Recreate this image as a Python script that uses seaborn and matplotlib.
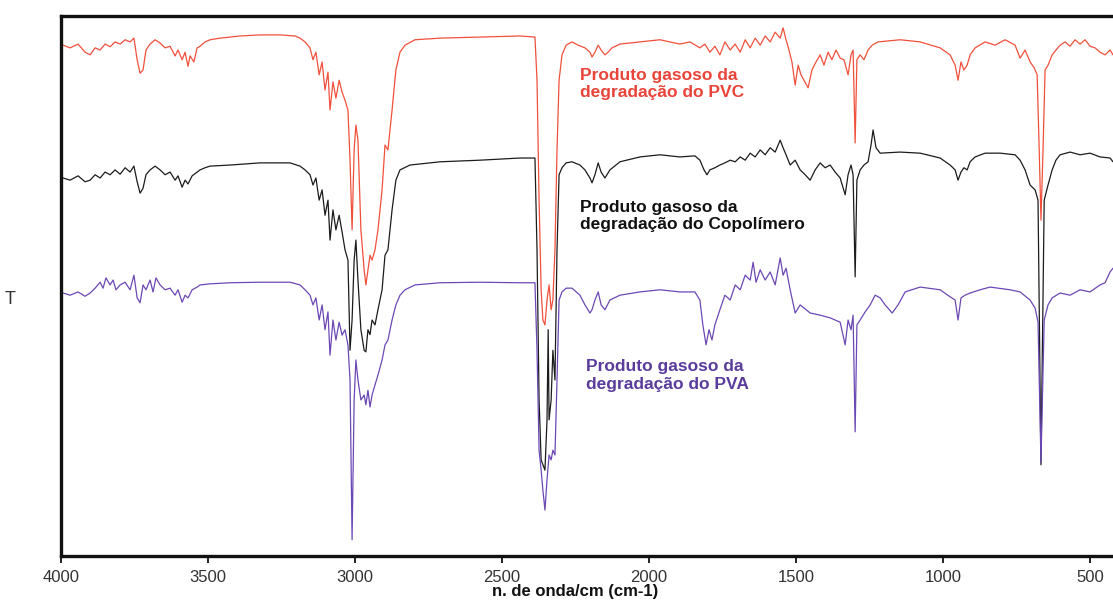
import matplotlib
matplotlib.use("Agg")
import matplotlib.pyplot as plt
import seaborn as sns
import pandas as pd

# ---------------- data ----------------
wn_pvc = [3993, 3969, 3942, 3918, 3901, 3884, 3867, 3850, 3833, 3816, 3799, 3782, 3765, 3752, 3741, 3731,
          3721, 3711, 3697, 3680, 3663, 3646, 3629, 3612, 3602, 3588, 3578, 3568, 3561, 3548, 3537, 3527,
          3510, 3493, 3459, 3391, 3323, 3255, 3204, 3187, 3170, 3153, 3143, 3133, 3122, 3112, 3102, 3092,
          3085, 3075, 3065, 3054, 3044, 3034, 3024, 3017, 3010, 3003, 2997, 2990, 2980, 2969, 2963, 2956,
          2949, 2942, 2932, 2922, 2908, 2898, 2888, 2874, 2861, 2847, 2830, 2796, 2711, 2575, 2439, 2388,
          2381, 2374, 2367, 2361, 2354, 2347, 2340, 2333, 2327, 2320, 2313, 2306, 2296, 2282, 2262, 2241,
          2218, 2201, 2194, 2184, 2173, 2163, 2150, 2139, 2126, 2099, 2031, 1963, 1895, 1861, 1827, 1810,
          1793, 1776, 1759, 1742, 1724, 1707, 1690, 1673, 1656, 1639, 1622, 1605, 1588, 1571, 1554, 1544,
          1534, 1524, 1514, 1503, 1493, 1483, 1473, 1459, 1446, 1432, 1418, 1405, 1391, 1378, 1364, 1350,
          1337, 1323, 1313, 1306, 1299, 1293, 1282, 1269, 1255, 1241, 1221, 1146, 1078, 1010, 976, 959,
          949, 939, 929, 918, 908, 891, 857, 823, 789, 755, 738, 721, 704, 690, 680, 673, 667, 660, 653,
          643, 629, 616, 602, 585, 568, 551, 534, 517, 500, 483, 466, 449, 432, 422]
t_pvc = [94.6, 94.1, 94.8, 93.3, 92.8, 94.1, 93.7, 94.8, 94.3, 95.2, 94.8, 95.6, 95.2, 95.9, 91.9, 89.4,
         90.0, 93.7, 94.8, 95.6, 95.0, 94.1, 94.4, 92.6, 93.7, 91.9, 93.3, 90.7, 92.6, 91.5, 94.1, 94.4,
         95.2, 95.6, 95.9, 96.3, 96.5, 96.5, 96.3, 95.9, 95.2, 94.1, 91.9, 93.3, 89.1, 91.5, 86.3, 89.6,
         82.6, 87.8, 84.8, 88.1, 85.9, 84.4, 82.6, 73.3, 60.4, 75.2, 79.8, 77.0, 60.4, 53.0, 50.2, 53.0,
         55.7, 54.8, 56.7, 60.4, 67.8, 76.1, 75.2, 82.6, 90.0, 93.3, 94.6, 95.6, 95.9, 96.1, 96.3, 96.1,
         88.1, 65.9, 49.3, 43.7, 42.8, 47.4, 50.2, 45.6, 47.4, 56.7, 75.2, 88.1, 92.8, 94.6, 95.2, 94.6,
         94.1, 93.3, 92.4, 93.3, 94.6, 93.7, 92.8, 93.3, 94.1, 94.8, 95.2, 95.6, 94.8, 95.2, 94.1, 94.8,
         93.3, 94.4, 92.8, 95.2, 93.7, 94.8, 93.3, 95.6, 94.1, 95.9, 94.6, 96.3, 95.2, 97.0, 95.9, 97.8,
         95.6, 93.7, 91.5, 87.2, 90.9, 89.1, 88.1, 86.7, 90.0, 91.5, 92.8, 90.9, 93.3, 91.9, 93.7, 92.2,
         91.9, 89.1, 92.8, 93.7, 76.5, 91.9, 92.8, 91.9, 93.7, 94.6, 95.2, 95.6, 95.2, 94.1, 92.8, 90.9,
         88.1, 91.5, 90.0, 90.9, 92.8, 94.1, 95.2, 94.6, 95.6, 94.6, 92.2, 93.7, 91.5, 90.4, 89.1, 75.2,
         62.2, 75.2, 90.0, 90.9, 92.8, 93.7, 94.6, 95.2, 94.4, 95.6, 94.8, 95.6, 94.4, 94.1, 93.3, 92.8,
         93.7, 92.8]

wn_cop = [3993, 3969, 3942, 3918, 3901, 3884, 3867, 3850, 3833, 3816, 3799, 3782, 3765, 3752, 3741, 3731,
          3721, 3711, 3697, 3680, 3663, 3646, 3629, 3612, 3602, 3588, 3578, 3568, 3554, 3537, 3527, 3510,
          3493, 3425, 3323, 3221, 3187, 3170, 3153, 3143, 3133, 3122, 3112, 3102, 3092, 3085, 3075, 3065,
          3054, 3044, 3034, 3024, 3017, 3010, 3003, 2997, 2990, 2980, 2969, 2963, 2956, 2949, 2942, 2932,
          2922, 2908, 2898, 2888, 2874, 2861, 2847, 2813, 2711, 2575, 2439, 2388, 2381, 2374, 2367, 2361,
          2354, 2347, 2343, 2340, 2333, 2327, 2320, 2313, 2306, 2296, 2282, 2262, 2235, 2218, 2201, 2194,
          2184, 2173, 2163, 2150, 2133, 2099, 2031, 1963, 1895, 1844, 1827, 1813, 1803, 1793, 1776, 1759,
          1742, 1724, 1707, 1690, 1673, 1656, 1639, 1622, 1605, 1588, 1571, 1554, 1544, 1534, 1520, 1503,
          1486, 1469, 1452, 1435, 1418, 1401, 1384, 1367, 1350, 1333, 1323, 1313, 1306, 1299, 1293, 1282,
          1269, 1255, 1245, 1238, 1228, 1214, 1146, 1078, 1010, 976, 959, 949, 939, 929, 918, 908, 891,
          857, 806, 755, 738, 721, 704, 687, 677, 667, 656, 643, 629, 616, 602, 568, 534, 500, 466, 432, 422]
t_cop = [70.0, 69.6, 70.4, 69.3, 69.6, 70.6, 70.0, 71.1, 70.6, 71.5, 70.7, 71.9, 71.1, 72.2, 69.3, 67.2,
         68.1, 70.6, 71.5, 72.2, 71.5, 70.6, 71.1, 69.6, 70.4, 68.3, 69.6, 68.9, 70.4, 71.1, 71.5, 71.9,
         72.2, 72.4, 72.8, 72.8, 72.2, 71.5, 70.6, 68.7, 70.0, 65.9, 67.8, 63.1, 65.9, 58.5, 64.1, 60.4,
         63.1, 60.0, 56.7, 54.8, 38.1, 43.7, 54.8, 58.5, 51.1, 41.9, 38.1, 37.8, 41.9, 41.0, 43.7, 42.8,
         45.6, 49.3, 55.7, 56.7, 64.1, 69.6, 71.5, 72.4, 73.0, 73.3, 73.7, 73.7, 56.7, 28.9, 17.8, 16.9,
         15.9, 25.2, 41.9, 25.2, 28.9, 38.1, 32.6, 56.7, 70.6, 71.9, 72.8, 73.0, 72.4, 71.5, 70.0, 69.1,
         70.6, 72.8, 71.1, 70.0, 71.5, 73.0, 73.9, 74.3, 73.9, 74.1, 73.3, 71.5, 70.6, 71.5, 71.9, 72.4,
         72.8, 73.3, 73.0, 73.9, 73.3, 74.6, 73.9, 75.2, 74.3, 75.6, 74.8, 77.0, 75.6, 74.3, 72.4, 73.3,
         71.5, 70.6, 69.6, 71.5, 72.8, 71.9, 72.4, 71.1, 70.0, 66.9, 70.6, 72.4, 70.6, 51.7, 69.6, 71.5,
         72.4, 73.0, 76.1, 78.9, 75.6, 74.6, 74.8, 74.6, 73.7, 72.4, 71.5, 69.6, 71.1, 71.9, 71.5, 73.0, 73.9,
         74.6, 74.6, 74.3, 73.3, 71.5, 68.7, 67.8, 65.9, 16.9, 65.9, 68.7, 71.5, 73.3, 74.3, 74.8, 74.3,
         74.6, 73.9, 73.7, 73.0]

wn_pva = [3993, 3969, 3942, 3918, 3901, 3884, 3867, 3857, 3847, 3833, 3823, 3813, 3799, 3782, 3765, 3752,
          3741, 3731, 3721, 3711, 3697, 3687, 3677, 3663, 3646, 3629, 3612, 3602, 3588, 3578, 3568, 3554,
          3537, 3527, 3493, 3425, 3323, 3221, 3187, 3170, 3153, 3143, 3133, 3122, 3112, 3102, 3092, 3085,
          3075, 3065, 3054, 3044, 3034, 3024, 3017, 3010, 3003, 2997, 2990, 2980, 2969, 2963, 2956, 2949,
          2942, 2932, 2922, 2908, 2898, 2888, 2874, 2861, 2847, 2830, 2796, 2711, 2575, 2439, 2388, 2381,
          2374, 2367, 2361, 2354, 2347, 2340, 2333, 2327, 2320, 2313, 2306, 2296, 2282, 2262, 2235, 2218,
          2201, 2194, 2184, 2173, 2163, 2150, 2133, 2099, 2031, 1963, 1895, 1844, 1827, 1817, 1806, 1796,
          1786, 1776, 1759, 1742, 1724, 1707, 1690, 1673, 1656, 1646, 1636, 1622, 1605, 1588, 1571, 1554,
          1544, 1534, 1520, 1503, 1486, 1452, 1418, 1384, 1350, 1333, 1323, 1313, 1306, 1299, 1293, 1282,
          1265, 1248, 1231, 1214, 1197, 1173, 1153, 1129, 1078, 1010, 976, 959, 949, 939, 925, 908, 874,
          840, 772, 738, 704, 687, 677, 667, 656, 643, 629, 602, 568, 534, 500, 466, 449, 432, 422]
t_pva = [48.7, 48.3, 48.9, 48.1, 48.7, 49.6, 50.7, 49.6, 51.5, 50.2, 51.1, 49.3, 50.2, 50.7, 49.3, 52.0,
         47.8, 46.9, 50.2, 49.3, 51.1, 48.9, 51.5, 50.2, 49.3, 49.6, 48.3, 49.3, 47.0, 48.3, 47.8, 49.3,
         49.8, 50.2, 50.4, 50.6, 50.7, 50.7, 50.2, 49.3, 48.3, 46.5, 47.8, 43.7, 46.5, 41.9, 45.2, 37.2,
         43.7, 40.0, 43.3, 40.9, 41.9, 39.1, 32.6, 3.0, 28.9, 36.3, 32.6, 28.9, 29.8, 28.0, 30.7, 27.6,
         29.8, 31.7, 33.5, 36.3, 39.1, 40.0, 43.7, 46.5, 48.3, 49.3, 50.2, 50.6, 50.7, 50.6, 50.6, 38.1,
         19.6, 15.9, 12.2, 8.5, 14.1, 18.7, 17.8, 19.6, 18.7, 32.6, 47.4, 48.9, 49.6, 49.6, 48.3, 46.5,
         45.0, 45.6, 47.4, 48.9, 46.5, 45.6, 47.4, 48.3, 48.9, 49.3, 48.9, 48.9, 47.4, 42.8, 39.1, 41.9,
         40.0, 42.8, 45.6, 48.3, 47.4, 50.2, 49.3, 52.0, 51.1, 54.4, 50.7, 53.0, 51.1, 52.6, 50.2, 55.2,
         52.0, 53.3, 49.3, 45.0, 46.5, 45.0, 44.6, 44.1, 43.3, 39.1, 43.7, 41.9, 44.6, 23.0, 42.8, 43.7,
         45.2, 46.5, 48.3, 47.8, 46.5, 45.0, 46.5, 48.9, 49.8, 49.3, 48.0, 47.4, 43.7, 47.8, 48.3, 48.7, 49.3,
         49.8, 49.3, 48.9, 47.4, 45.9, 43.3, 17.4, 43.7, 46.5, 47.8, 48.7, 48.3, 49.3, 48.9, 50.2, 50.6,
         52.6, 53.3]

x_ticks = [4000, 3500, 3000, 2500, 2000, 1500, 1000, 500]
x_label = "n. de onda/cm (cm-1)"
y_label = "T"
labels = {
    "pvc": "Produto gasoso da\ndegradação do PVC",
    "cop": "Produto gasoso da\ndegradação do Copolímero",
    "pva": "Produto gasoso da\ndegradação do PVA",
}

# ---------------- drawing ----------------
sns.set_style("white")
plt.rcParams["font.family"] = ["Liberation Sans", "DejaVu Sans"]

W, H = 1113, 606
fig = plt.figure(figsize=(W / 100, H / 100), dpi=100)
ax = fig.add_axes([61 / W, 50 / H, 1052 / W, 540 / H])

c_pvc = "#f0503c"
c_cop = "#1c1c1c"
c_pva = "#6c48b4"

for wn, t, c in [(wn_pvc, t_pvc, c_pvc), (wn_cop, t_cop, c_cop), (wn_pva, t_pva, c_pva)]:
    df = pd.DataFrame({"wn": wn, "T": t})
    sns.lineplot(data=df, x="wn", y="T", ax=ax, color=c, linewidth=0.9,
                 sort=False, estimator=None)

ax.set_xlim(4000, 422)
ax.set_ylim(0, 100)

ax.set_xticks(x_ticks)
ax.set_xticklabels([str(v) for v in x_ticks], fontsize=12, color="#333333")
ax.tick_params(axis="x", direction="out", length=5, width=1.4, color="#222222", pad=5, bottom=True)
ax.set_yticks([])

for s in ["left", "top", "bottom"]:
    ax.spines[s].set_visible(True)
    ax.spines[s].set_linewidth(2.4)
    ax.spines[s].set_color("#111111")
ax.spines["right"].set_visible(False)

ax.set_xlabel(x_label, fontsize=12, fontweight="bold", color="#111111")
ax.xaxis.set_label_coords((575 - 61) / 1052, -(584 - 556) / 540)
ax.xaxis.label.set_va("top")

ax.set_ylabel(y_label, fontsize=13, rotation=0, color="#333333")
ax.yaxis.set_label_coords((10 - 61) / 1052, (556 - 300) / 540)
ax.yaxis.label.set_va("center")
ax.yaxis.label.set_ha("center")

ax.text(2235, 90.4, labels["pvc"], color="#e8443a", fontsize=12.5, fontweight="bold",
        va="top", ha="left", linespacing=1.2)
ax.text(2235, 66.0, labels["cop"], color="#111111", fontsize=12.5, fontweight="bold",
        va="top", ha="left", linespacing=1.2)
ax.text(2215, 36.4, labels["pva"], color="#5a3c9c", fontsize=12.5, fontweight="bold",
        va="top", ha="left", linespacing=1.2)

ax.grid(False)
fig.savefig("out.png", dpi=100, facecolor="white")
